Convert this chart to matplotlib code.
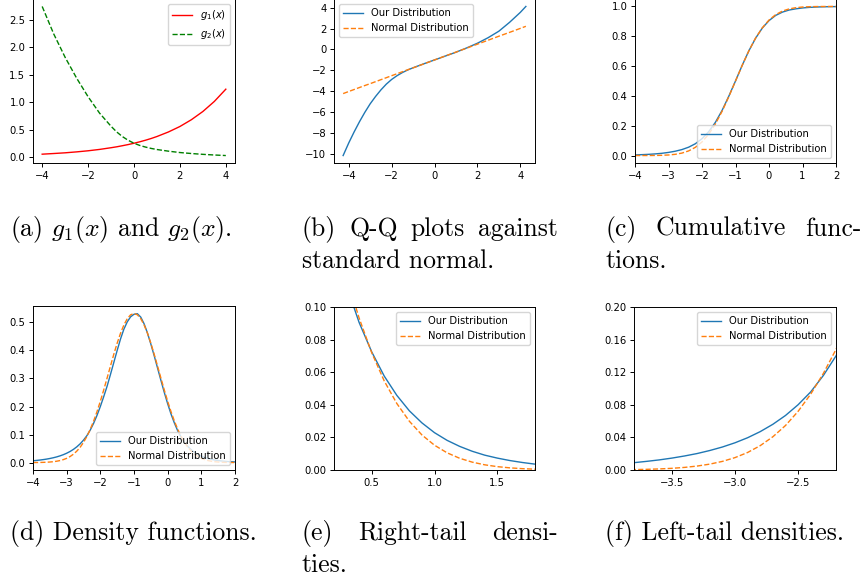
import matplotlib.pyplot as plt

# (a) g1 and g2
g_x = [-4.0, -3.5, -3.0, -2.5, -2.0, -1.5, -1.0, -0.75, -0.5, -0.25, 0.0,
       0.25, 0.5, 0.75, 1.0, 1.5, 2.0, 2.5, 3.0, 3.5, 4.0]
g1_vals = [0.050, 0.062, 0.075, 0.092, 0.112, 0.137, 0.168, 0.185, 0.205, 0.226, 0.250,
           0.276, 0.305, 0.337, 0.373, 0.456, 0.556, 0.680, 0.830, 1.014, 1.238]
g2_vals = [2.75, 2.25, 1.82, 1.44, 1.10, 0.80, 0.56, 0.455, 0.37, 0.303, 0.25,
           0.21, 0.18, 0.155, 0.135, 0.105, 0.080, 0.062, 0.047, 0.035, 0.025]

# (b) Q-Q against standard normal
qq_theory = [-4.26, -4.0, -3.75, -3.5, -3.25, -3.0, -2.75, -2.5, -2.25, -2.0, -1.75,
             -1.5, -1.25, -1.0, -0.5, 0.0, 0.5, 1.0, 1.5, 2.0, 2.5, 3.0, 3.5, 4.0, 4.26]
qq_ours = [-10.15, -8.95, -7.9, -6.92, -6.02, -5.2, -4.5, -3.87, -3.32, -2.87, -2.51,
           -2.21, -1.96, -1.75, -1.37, -1.0, -0.63, -0.26, 0.15, 0.60, 1.13, 1.75, 2.6, 3.55, 4.12]
qq_normal = [-4.22, -4.02, -3.83, -3.64, -3.45, -3.27, -3.08, -2.89, -2.70, -2.51, -2.32,
             -2.13, -1.94, -1.76, -1.38, -1.0, -0.62, -0.25, 0.13, 0.51, 0.89, 1.27, 1.64, 2.02, 2.22]

# (c) cumulative functions
cdf_x = [-4.0, -3.8, -3.6, -3.4, -3.2, -3.0, -2.8, -2.6, -2.4, -2.2, -2.0,
         -1.8, -1.6, -1.4, -1.2, -1.0, -0.8, -0.6, -0.4, -0.2, 0.0,
         0.2, 0.4, 0.6, 0.8, 1.0, 1.2, 1.4, 1.6, 1.8, 2.0]
cdf_ours = [0.004, 0.006, 0.008, 0.011, 0.015, 0.021, 0.029, 0.040, 0.056, 0.079, 0.113,
            0.160, 0.223, 0.303, 0.398, 0.500, 0.605, 0.703, 0.787, 0.855, 0.905,
            0.940, 0.962, 0.976, 0.984, 0.990, 0.9937, 0.996, 0.9975, 0.9984, 0.999]
cdf_normal = [0.00003, 0.0001, 0.0003, 0.0007, 0.0017, 0.0038, 0.0082, 0.0165, 0.0310, 0.0548, 0.0912,
              0.1431, 0.2119, 0.2969, 0.3949, 0.5, 0.6051, 0.7031, 0.7881, 0.8569, 0.9088,
              0.9452, 0.9690, 0.9835, 0.9918, 0.9962, 0.9983, 0.9993, 0.9997, 0.9999, 1.0]

# (d)-(f) densities, the tails are zooms of the same curves
pdf_x = [-4.0, -3.9, -3.8, -3.7, -3.6, -3.5, -3.4, -3.3, -3.2, -3.1,
         -3.0, -2.9, -2.8, -2.7, -2.6, -2.5, -2.4, -2.3, -2.2, -2.1,
         -2.0, -1.9, -1.8, -1.7, -1.6, -1.5, -1.4, -1.3, -1.2, -1.1,
         -1.0, -0.9, -0.8, -0.7, -0.6, -0.5, -0.4, -0.3, -0.2, -0.1,
         0.0, 0.1, 0.2, 0.3, 0.4, 0.5, 0.6, 0.7, 0.8, 0.9,
         1.0, 1.1, 1.2, 1.3, 1.4, 1.5, 1.6, 1.7, 1.8, 1.9, 2.0]
pdf_ours = [0.0065, 0.0077, 0.0090, 0.0106, 0.0124, 0.0146, 0.0172, 0.0202, 0.0239, 0.0282,
            0.0334, 0.0396, 0.0471, 0.0561, 0.0669, 0.0801, 0.0959, 0.116, 0.140, 0.168,
            0.200, 0.235, 0.272, 0.314, 0.357, 0.400, 0.441, 0.476, 0.502, 0.520,
            0.529, 0.531, 0.519, 0.495, 0.462, 0.423, 0.381, 0.337, 0.293, 0.250,
            0.210, 0.173, 0.141, 0.113, 0.0905, 0.0725, 0.0576, 0.0458, 0.0363, 0.0289,
            0.0229, 0.0182, 0.0145, 0.0115, 0.0091, 0.0073, 0.0058, 0.0046, 0.0036, 0.0029, 0.0023]
pdf_normal = [0.00018, 0.00030, 0.00050, 0.00082, 0.00131, 0.00206, 0.00318, 0.00483, 0.0072, 0.01055,
              0.0152, 0.0215, 0.0299, 0.0408, 0.0546, 0.0720, 0.0932, 0.1185, 0.1479, 0.1814,
              0.2186, 0.2589, 0.3011, 0.3439, 0.3862, 0.4260, 0.4614, 0.4910, 0.5133, 0.5272,
              0.5319, 0.5272, 0.5133, 0.4910, 0.4614, 0.4260, 0.3862, 0.3439, 0.3011, 0.2589,
              0.2186, 0.1814, 0.1479, 0.1185, 0.0932, 0.0720, 0.0546, 0.0408, 0.0299, 0.0215,
              0.0152, 0.01055, 0.0072, 0.00483, 0.00318, 0.00206, 0.00131, 0.00082, 0.00050, 0.00030, 0.00018]

BLUE, ORANGE = '#1f77b4', '#ff7f0e'
LW = 1.0

plt.rcParams['font.size'] = 7.2
plt.rcParams['axes.linewidth'] = 0.7
plt.rcParams['xtick.major.width'] = 0.7
plt.rcParams['ytick.major.width'] = 0.7
plt.rcParams['xtick.major.size'] = 3
plt.rcParams['ytick.major.size'] = 3
plt.rcParams['xtick.major.pad'] = 2.5
plt.rcParams['ytick.major.pad'] = 2.5
plt.rcParams['legend.fontsize'] = 7.2

W, H = 864, 581
fig = plt.figure(figsize=(W / 100, H / 100), dpi=100)


def panel(left, top, right, bottom):
    # positions given in pixels of the final image
    return fig.add_axes([left / W, 1 - bottom / H, (right - left) / W, (bottom - top) / H])


def two_curves(ax, x, ours, normal):
    ax.plot(x, ours, color=BLUE, lw=LW, label='Our Distribution')
    ax.plot(x, normal, '--', color=ORANGE, lw=LW, label='Normal Distribution')


# (a)
ax = panel(33, -1, 235, 163)
ax.plot(g_x, g1_vals, color='red', lw=LW, label=r'$g_1(x)$')
ax.plot(g_x, g2_vals, '--', color='green', lw=LW, label=r'$g_2(x)$')
ax.legend(loc='upper right')

# (b)
ax = panel(334, -1, 535, 163)
two_curves(ax, qq_theory, qq_ours, qq_normal)
ax.set_yticks([-10, -8, -6, -4, -2, 0, 2, 4])
ax.legend(loc='upper left')

# (c)
ax = panel(635, -1, 836, 163)
two_curves(ax, cdf_x, cdf_ours, cdf_normal)
ax.set_xlim(-4, 2)
ax.legend(loc='lower right')

# (d)
ax = panel(33, 306, 235, 470)
two_curves(ax, pdf_x, pdf_ours, pdf_normal)
ax.set_xlim(-4, 2)
ax.legend(loc='lower right')

# (e)
ax = panel(334, 307, 535, 470)
two_curves(ax, pdf_x, pdf_ours, pdf_normal)
ax.set_xlim(0.2, 1.8)
ax.set_ylim(0, 0.1)
ax.set_xticks([0.5, 1.0, 1.5])
ax.legend(loc='upper right')

# (f)
ax = panel(634, 307, 836, 470)
two_curves(ax, pdf_x, pdf_ours, pdf_normal)
ax.set_xlim(-3.8, -2.2)
ax.set_ylim(0, 0.2)
ax.set_xticks([-3.5, -3.0, -2.5])
ax.set_yticks([0, 0.04, 0.08, 0.12, 0.16, 0.2])
ax.legend(loc='upper right')

# subfigure captions, set like LaTeX
CAP = dict(family='cmr10', math_fontfamily='cm', fontsize=18.5, va='baseline')
renderer = fig.canvas.get_renderer()


def caption(words, x0, y, x1=None):
    if x1 is None:
        fig.text(x0 / W, 1 - y / H, ' '.join(words), **CAP)
        return
    # justified line: stretch the spaces so the line fills x0..x1
    texts = [fig.text(x0 / W, 1 - y / H, w, **CAP) for w in words]
    widths = [t.get_window_extent(renderer).width for t in texts]
    gap = (x1 - x0 - sum(widths)) / (len(words) - 1)
    x = x0
    for t, w in zip(texts, widths):
        t.set_x(x / W)
        x += w + gap


caption(['(a)', '$g_1(x)$', 'and', '$g_2(x)$.'], 10, 236)
caption(['(b)', 'Q-Q', 'plots', 'against'], 302, 236, 558)
caption(['standard', 'normal.'], 302, 268)
caption(['(c)', 'Cumulative', 'func-'], 605, 236, 861)
caption(['tions.'], 605, 268)
caption(['(d)', 'Density', 'functions.'], 10, 540)
caption(['(e)', 'Right-tail', 'densi-'], 302, 540, 558)
caption(['ties.'], 302, 572)
caption(['(f)', 'Left-tail', 'densities.'], 605, 540)

fig.savefig('out.png', dpi=100)
